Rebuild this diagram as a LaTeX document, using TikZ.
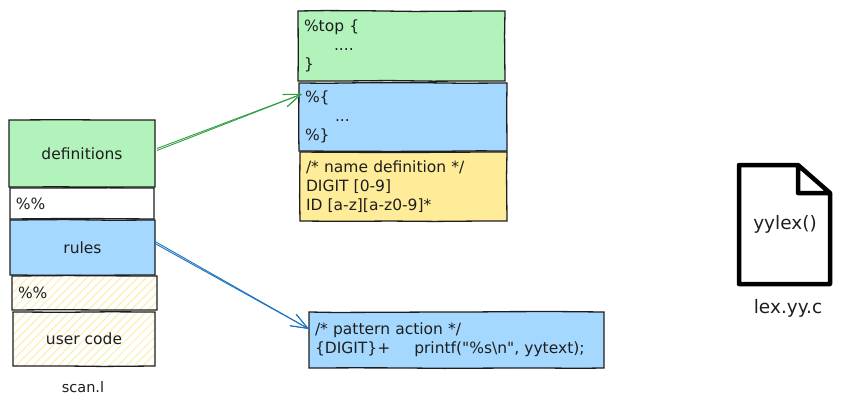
\documentclass[tikz,border=0pt]{standalone}
\usepackage{fontspec}
\setmainfont{DejaVu Sans}
\usetikzlibrary{arrows.meta,patterns.meta,decorations.pathmorphing}
\definecolor{inkgray}{HTML}{1E1E1E}
\definecolor{sketchgreen}{HTML}{B2F2BB}
\definecolor{sketchblue}{HTML}{A5D8FF}
\definecolor{sketchyellow}{HTML}{FFEC99}
\definecolor{hatchyellow}{HTML}{FCEFB8}
\definecolor{arrowgreen}{HTML}{2F9E44}
\definecolor{arrowblue}{HTML}{1971C2}
\tikzstyle{b} = [draw=inkgray, line width=1.3pt, outer sep=0pt, inner sep=6pt, text=inkgray, align=left, decorate, decoration={random steps,segment length=45pt,amplitude=.5pt}, font=\fontsize{15.5}{19}\selectfont]

\begin{document}
\begin{tikzpicture}[x=1pt,y=-1pt,
			hatched/.style = {b,preaction={fill=white},pattern={Lines[angle=45,distance=6pt,line width=1.2pt]},pattern color=hatchyellow},
			head/.style = {-{Straight Barb[length=17pt,width=13pt]},line width=.9pt},
			caption/.style = {text=inkgray,font=\fontsize{14.5}{16}\selectfont},
			big/.style = {text=inkgray,font=\fontsize{18.5}{20}\selectfont}]
			\useasboundingbox (0,0) rectangle (845,407);

			\node (definitions)[b,fill=sketchgreen,minimum width=146,minimum height=67] at (82,153.5) {definitions};
			\node (sep1)[b,fill=white,minimum width=144,minimum height=31,text width=132] at (82,203.5) {\%\%};
			\node (rules)[b,fill=sketchblue,minimum width=145,minimum height=55] at (82.5,247.5) {rules};
			\node (sep2)[hatched,minimum width=145,minimum height=34,text width=133] at (84.5,293) {\%\%};
			\node (usercode)[hatched,minimum width=142,minimum height=54] at (84,339) {user code};
			\node (scan)[caption] at (83,387) {scan.l};

			\node (top)[b,fill=sketchgreen,minimum width=207,minimum height=70,text width=195] at (401.5,46) {\%top \{\\\hspace*{30pt}....\\\}};
			\node (include)[b,fill=sketchblue,minimum width=208,minimum height=68,text width=196] at (403,117) {\%\{\\\hspace*{30pt}...\\\%\}};
			\node (names)[b,fill=sketchyellow,minimum width=207,minimum height=69,text width=195] at (403.5,186.5) {/* name definition */\\DIGIT [0-9]\\ID [a-z][a-z0-9]*};
			\node (pattern)[b,fill=sketchblue,minimum width=295,minimum height=56,text width=283] at (456.5,340) {/* pattern action */\\\{DIGIT\}+\hspace*{24pt}printf(\textquotedbl\%s\textbackslash n\textquotedbl, yytext);};

			\draw[head,arrowgreen] ([xshift=2pt,yshift=5pt]definitions.east) -- ([xshift=3pt,yshift=23pt]include.west);
			\draw[head,arrowgreen] ([xshift=2pt,yshift=3pt]definitions.east) -- ([xshift=3pt,yshift=23pt]include.west);
			\draw[head,arrowblue] ([yshift=6pt]rules.east) -- ([yshift=11pt]pattern.west);
			\draw[head,arrowblue] ([yshift=4pt]rules.east) -- ([yshift=11pt]pattern.west);

			\draw[line width=4.5pt,line join=round,line cap=round] (798,165) -- (739,165) -- (739,284) -- (830,284) -- (830,193) -- (798,165) -- (798,193) -- (830,193);
			\node (yylex)[big] at (785,224) {yylex()};
			\node (lexc)[big] at (788,308) {lex.yy.c};
		\end{tikzpicture}
\end{document}
